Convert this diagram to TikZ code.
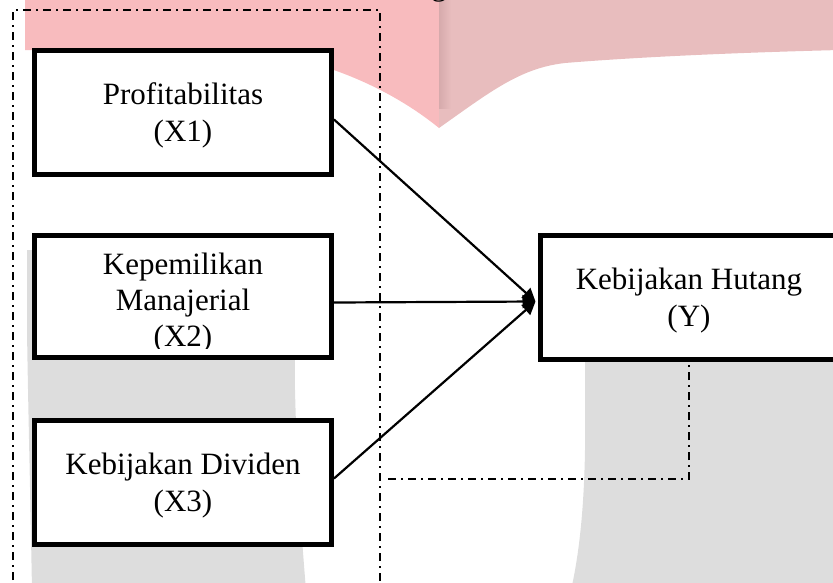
\documentclass[tikz,border=0pt]{standalone}
\usepackage{fontspec}
\setmainfont{Liberation Serif}
\usetikzlibrary{arrows.meta}
\definecolor{wmpink}{RGB}{248,187,190}
\definecolor{wmrose}{RGB}{232,189,190}
\definecolor{wmfold}{RGB}{214,170,172}
\definecolor{wmgray}{RGB}{221,221,221}
\tikzset{
  varbox/.style={draw, line width=5pt, fill=white, minimum width=297pt,
    minimum height=124pt, inner sep=0pt},
  lbl/.style={align=center, inner sep=0pt, font=\fontsize{31}{36.5}\selectfont},
  dashdot/.style={line width=1.8pt, dash pattern=on 8pt off 5pt on 2pt off 5pt},
  link/.style={line width=2.2pt, -{Triangle[length=13pt,width=13pt]}},
}
\begin{document}
\begin{tikzpicture}[x=1pt,y=-1pt]
\useasboundingbox (0,0) rectangle (833,582);
\begin{scope}
\clip (0,0) rectangle (833,582);

% background logo shapes
\fill[wmpink] (25,-5) -- (25,50) -- (230,50) .. controls (300,52) and (380,80) .. (439,128) -- (439,-5) -- cycle;
\fill[wmrose] (439,-5) -- (439,128) .. controls (490,92) and (520,68) .. (565,63)
  .. controls (650,56) and (760,52) .. (840,50) -- (840,-5) -- cycle;
\shade[left color=wmfold, right color=wmrose] (439,-5) rectangle (451,108);
\fill[wmgray] (27,250) -- (294,250) -- (295,390) .. controls (297,470) and (301,530) .. (306,590)
  -- (32,590) .. controls (30,480) and (28,400) .. (27,330) -- cycle;
\fill[wmgray] (585,330) -- (585,450) .. controls (584,510) and (579,555) .. (571,590)
  -- (840,590) -- (840,330) -- cycle;

% fragment of the caption above
\node[lbl, anchor=base] (gfrag) at (439,-5) {g};

% frame round the independent variables
\draw[dashdot] (13,600) -- (13,10) -- (380,10) -- (380,600);

% variable boxes
\node[varbox] (b1) at (183,112.5) {};
\node[varbox, minimum height=122pt] (b2) at (183,296.5) {};
\node[varbox] (b3) at (183,482.5) {};
\node[varbox] (by) at (689,297.5) {};

\node[lbl] (t1) at ([yshift=-3pt]b1.center) {Profitabilitas\\(X1)};
\begin{scope}
  \clip (32,233) rectangle (334,348);
  \node[lbl, font=\fontsize{31}{36}\selectfont] (t2) at ([yshift=-7pt]b2.center) {Kepemilikan\\Manajerial\\(X2)};
\end{scope}
\node[lbl] (t3) at ([yshift=-3pt]b3.center) {Kebijakan Dividen\\(X3)};
\node[lbl] (ty) at ([yshift=-3pt]by.center) {Kebijakan Hutang\\(Y)};

% bracket from the dependent variable
\coordinate (dstart) at (388,479);
\draw[dashdot] (dstart) -- (by.south |- dstart) -- (by.south);

% effects
\coordinate (hit) at ([xshift=-2.5pt,yshift=-4pt]by.west);
\draw[link] ([yshift=-7pt]b1.east) -- (hit);
\draw[link] ([yshift=-6pt]b2.east) -- (hit);
\draw[link] ([yshift=4pt]b3.east) -- (hit);
\end{scope}
\end{tikzpicture}
\end{document}
